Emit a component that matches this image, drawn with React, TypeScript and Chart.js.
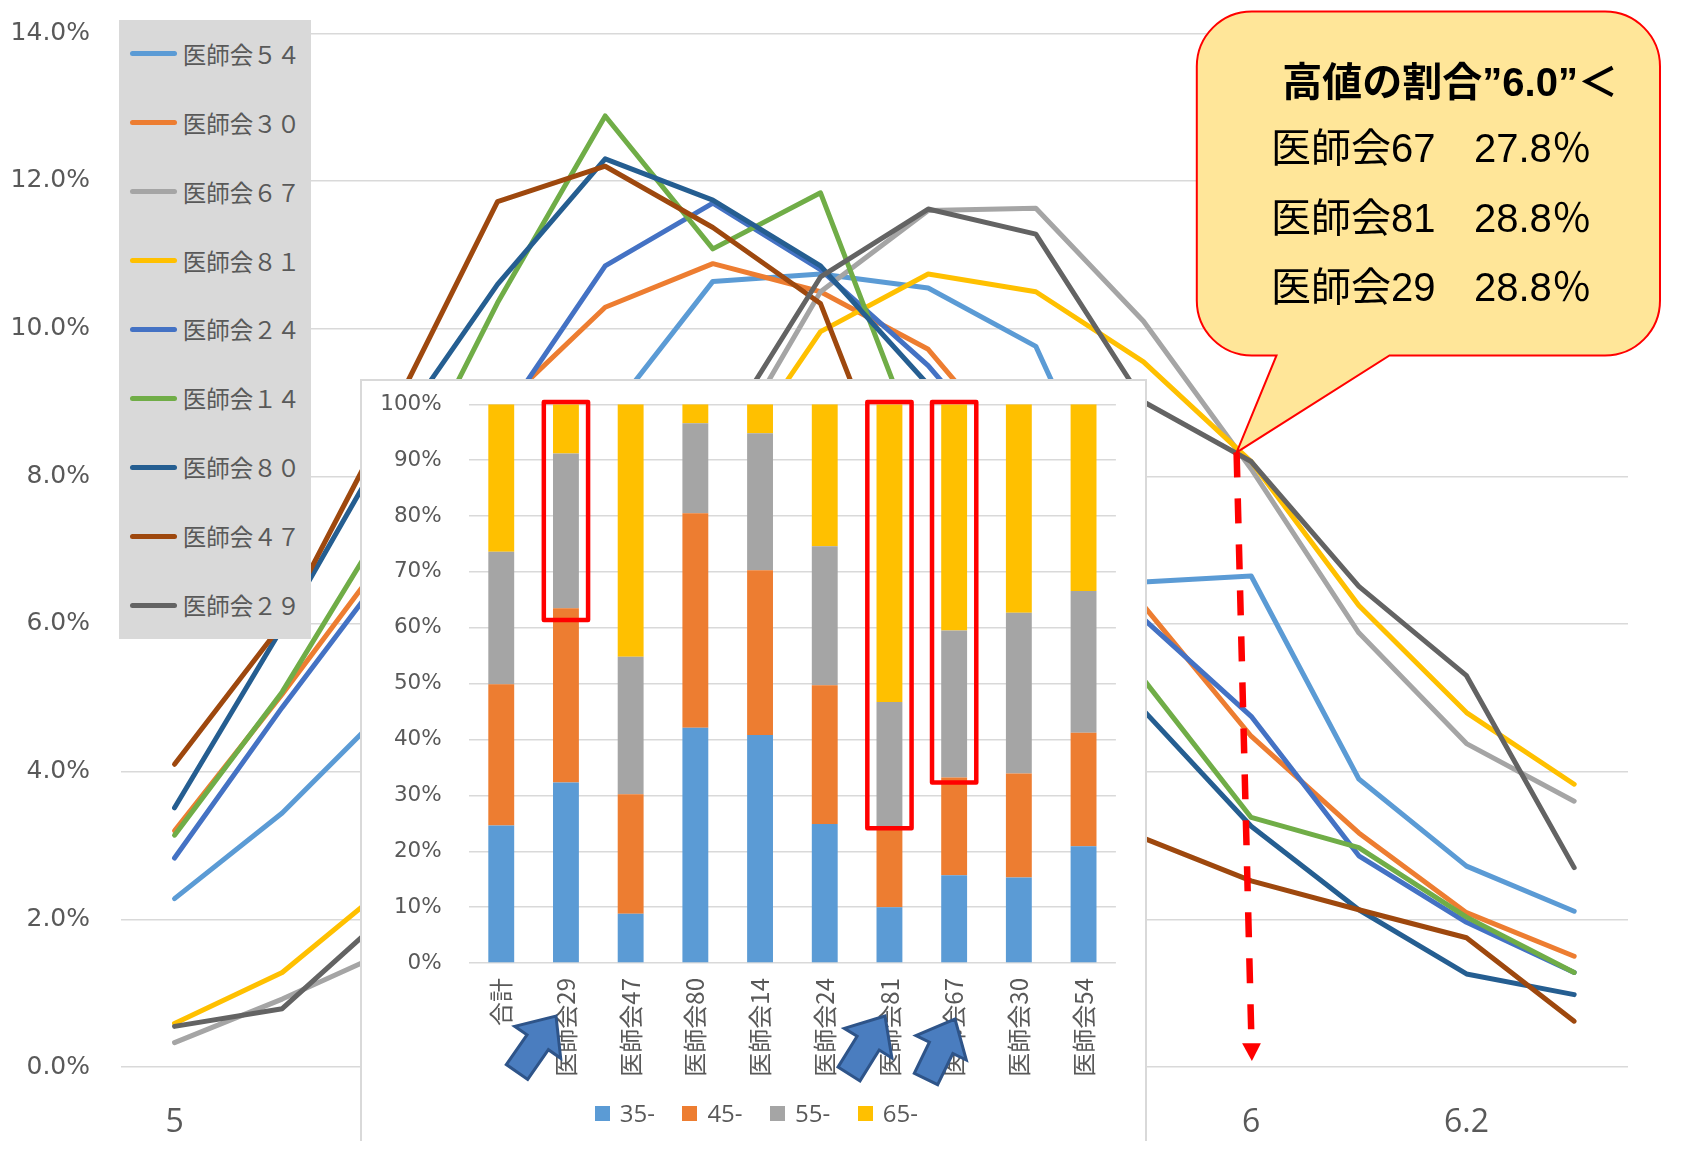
import React, { useEffect, useRef } from 'react';
import { Chart, registerables } from 'chart.js';

Chart.register(...registerables);

// ---------- main line chart data ----------
const xLabels = ['5', '5.1', '5.2', '5.3', '5.4', '5.5', '5.6', '5.7', '5.8', '5.9', '6', '6.1', '6.2', '6.3'];
const yTicks = [0, 2, 4, 6, 8, 10, 12, 14];

const seriesNames = ['医師会５４', '医師会３０', '医師会６７', '医師会８１', '医師会２４', '医師会１４', '医師会８０', '医師会４７', '医師会２９'];
const seriesColors = ['#5b9bd5', '#ed7d31', '#a5a5a5', '#ffc000', '#4472c4', '#70ad47', '#255e91', '#9e480e', '#636363'];

const s54 = [2.28, 3.44, 4.9, 6.6, 8.77, 10.64, 10.74, 10.55, 9.76, 6.57, 6.65, 3.9, 2.72, 2.11];
const s30 = [3.2, 5.05, 7.0, 8.9, 10.29, 10.88, 10.5, 9.72, 8.0, 6.25, 4.48, 3.17, 2.09, 1.5];
const s67 = [0.33, 0.92, 1.58, 3.0, 5.2, 8.0, 10.5, 11.6, 11.63, 10.1, 8.1, 5.88, 4.38, 3.6];
const s81 = [0.59, 1.28, 2.48, 4.0, 5.9, 7.82, 9.96, 10.74, 10.5, 9.55, 8.2, 6.25, 4.8, 3.83];
const s24 = [2.83, 4.87, 6.8, 8.7, 10.85, 11.7, 10.8, 9.5, 7.8, 6.07, 4.75, 2.86, 1.96, 1.28];
const s14 = [3.14, 5.08, 7.47, 10.35, 12.88, 11.08, 11.84, 8.04, 6.5, 5.25, 3.38, 2.97, 2.03, 1.28];
const s80 = [3.51, 5.95, 8.5, 10.6, 12.3, 11.74, 10.85, 9.24, 7.0, 4.83, 3.26, 2.13, 1.26, 0.98];
const s47 = [4.1, 6.0, 8.8, 11.72, 12.2, 11.37, 10.34, 6.6, 4.6, 3.1, 2.52, 2.13, 1.75, 0.62];
const s29 = [0.55, 0.79, 2.1, 4.0, 6.1, 8.37, 10.7, 11.62, 11.28, 9.01, 8.2, 6.51, 5.3, 2.7];
const lineSeries = [s54, s30, s67, s81, s24, s14, s80, s47, s29];

// ---------- inset stacked bar data ----------
const barCategories = ['合計', '医師会29', '医師会47', '医師会80', '医師会14', '医師会24', '医師会81', '医師会67', '医師会30', '医師会54'];
const ageGroups = ['35-', '45-', '55-', '65-'];
const ageColors = ['#5b9bd5', '#ed7d31', '#a5a5a5', '#ffc000'];
const age35 = [24.6, 32.3, 8.8, 42.1, 40.8, 24.9, 10.0, 15.7, 15.3, 20.9];
const age45 = [25.3, 31.2, 21.4, 38.4, 29.5, 24.8, 14.0, 17.5, 18.6, 20.3];
const age55 = [23.7, 27.7, 24.6, 16.1, 24.5, 24.9, 22.7, 26.3, 28.8, 25.4];
const age65 = [26.4, 8.8, 45.2, 3.4, 5.2, 25.4, 53.3, 40.5, 37.3, 33.4];
const ageSeries = [age35, age45, age55, age65];

// highlighted bars (red frames): category index and lower bound in %
const highlightIndex = [1, 6, 7];
const highlightLow = [61.4, 24.1, 32.3];
const highlightHigh = 100.4;

// ---------- callout text ----------
const calloutTitle = '高値の割合”6.0”＜';
const calloutNames = ['医師会67', '医師会81', '医師会29'];
const calloutValues = ['27.8％', '28.8％', '28.8％'];

// ---------- annotation geometry (container coords) ----------
const blueArrows = [
  { tail: [509, 1064], tip: [548, 1008] },
  { tail: [841, 1066], tip: [877, 1008] },
  { tail: [918, 1071], tip: [947, 1011] },
];

function arrowPoints(tail: number[], tip: number[]) {
  const dx = tip[0] - tail[0];
  const dy = tip[1] - tail[1];
  const L = Math.hypot(dx, dy);
  const ux = dx / L, uy = dy / L;
  const nx = -uy, ny = ux;
  const hl = 32, hw = 28, sw = 13;
  const neckX = tail[0] + ux * (L - hl), neckY = tail[1] + uy * (L - hl);
  const pts = [
    [tail[0] + nx * sw, tail[1] + ny * sw],
    [neckX + nx * sw, neckY + ny * sw],
    [neckX + nx * hw, neckY + ny * hw],
    [tip[0], tip[1]],
    [neckX - nx * hw, neckY - ny * hw],
    [neckX - nx * sw, neckY - ny * sw],
    [tail[0] - nx * sw, tail[1] - ny * sw],
  ];
  return pts.map((p) => p[0].toFixed(1) + ',' + p[1].toFixed(1)).join(' ');
}

const highlightPlugin = {
  id: 'highlightFrames',
  afterDatasetsDraw(chart: any) {
    const { ctx, scales } = chart;
    const x = scales.x, y = scales.y;
    const step = x.getPixelForValue(1) - x.getPixelForValue(0);
    const half = step * 0.342;
    ctx.save();
    ctx.strokeStyle = '#ff0000';
    ctx.lineWidth = 4.5;
    ctx.lineJoin = 'round';
    highlightIndex.forEach((idx, k) => {
      const cx = x.getPixelForValue(idx);
      const top = y.getPixelForValue(highlightHigh);
      const bot = y.getPixelForValue(highlightLow[k]);
      ctx.strokeRect(cx - half, top, half * 2, bot - top);
    });
    ctx.restore();
  },
};

const CJK = "'Noto Sans CJK JP', sans-serif";
const MIXED = "'Liberation Sans', 'Noto Sans CJK JP', sans-serif";

export default function App() {
  const mainRef = useRef<HTMLCanvasElement>(null);
  const barRef = useRef<HTMLCanvasElement>(null);

  useEffect(() => {
    const main = new Chart(mainRef.current as HTMLCanvasElement, {
      type: 'line',
      data: {
        labels: xLabels,
        datasets: lineSeries.map((d, i) => ({
          label: seriesNames[i],
          data: d,
          borderColor: seriesColors[i],
          backgroundColor: seriesColors[i],
          borderWidth: 5,
          pointRadius: 0,
          tension: 0,
          borderJoinStyle: 'round' as const,
          borderCapStyle: 'round' as const,
          order: lineSeries.length - i,
        })),
      },
      options: {
        responsive: false,
        animation: false,
        layout: { padding: { left: 0, right: 53, top: 25.3, bottom: 0 } },
        plugins: { legend: { display: false }, tooltip: { enabled: false } },
        scales: {
          x: {
            offset: true,
            grid: { display: false, drawTicks: false },
            border: { display: false },
            ticks: {
              autoSkip: false,
              maxRotation: 0,
              minRotation: 0,
              padding: 37,
              color: '#595959',
              font: { family: "'Open Sans', sans-serif", size: 32 },
              callback: (_v: any, i: number) => (i % 2 === 0 ? xLabels[i] : ''),
            },
            afterFit: (s: any) => { s.height = 74; },
          },
          y: {
            min: 0,
            max: 14,
            afterBuildTicks: (s: any) => { s.ticks = yTicks.map((v) => ({ value: v })); },
            grid: { color: '#d9d9d9', lineWidth: 1.5, drawTicks: true, tickLength: 30.7, tickColor: 'rgba(0,0,0,0)' },
            border: { display: false },
            ticks: {
              padding: 0,
              color: '#595959',
              font: { family: "'DejaVu Sans', sans-serif", size: 25 },
              callback: (v: any) => Number(v).toFixed(1) + '%',
            },
            afterFit: (s: any) => { s.width = 112.7; },
          },
        },
      },
    });

    const bar = new Chart(barRef.current as HTMLCanvasElement, {
      type: 'bar',
      data: {
        labels: barCategories,
        datasets: ageSeries.map((d, i) => ({
          label: ageGroups[i],
          data: d,
          backgroundColor: ageColors[i],
          borderWidth: 0,
          barPercentage: 0.4,
          categoryPercentage: 1,
        })),
      },
      options: {
        responsive: false,
        animation: false,
        layout: { padding: { left: 0, right: 29.1, top: 23.3, bottom: 0 } },
        plugins: { legend: { display: false }, tooltip: { enabled: false } },
        scales: {
          x: {
            stacked: true,
            grid: { display: false, drawTicks: false },
            border: { display: false },
            ticks: {
              autoSkip: false,
              maxRotation: 90,
              minRotation: 90,
              padding: 15,
              color: '#595959',
              font: { family: CJK, size: 24 },
            },
            afterFit: (s: any) => { s.height = 184; },
          },
          y: {
            stacked: true,
            min: 0,
            max: 100,
            grid: { color: '#d9d9d9', lineWidth: 1.5, drawTicks: true, tickLength: 27.2, tickColor: 'rgba(0,0,0,0)' },
            border: { display: false },
            ticks: {
              stepSize: 10,
              padding: 0,
              color: '#595959',
              font: { family: "'DejaVu Sans', sans-serif", size: 21.5 },
              callback: (v: any) => v + '%',
            },
            afterFit: (s: any) => { s.width = 106.9; },
          },
        },
      },
      plugins: [highlightPlugin],
    });

    return () => {
      main.destroy();
      bar.destroy();
    };
  }, []);

  const x1 = 1188.8, x2 = 1652, y1 = 3.5, y2 = 347.5, r = 55;
  const baseL = 1268.5, baseR = 1381.5, tipX = 1228.6, tipY = 444.4;
  const calloutPath =
    `M ${x1 + r} ${y1} H ${x2 - r} A ${r} ${r} 0 0 1 ${x2} ${y1 + r} V ${y2 - r} ` +
    `A ${r} ${r} 0 0 1 ${x2 - r} ${y2} H ${baseR} L ${tipX} ${tipY} L ${baseL} ${y2} H ${x1 + r} ` +
    `A ${r} ${r} 0 0 1 ${x1} ${y2 - r} V ${y1 + r} A ${r} ${r} 0 0 1 ${x1 + r} ${y1} Z`;

  return (
    <div style={{ position: 'relative', width: 1673, height: 1133, background: '#fff', fontFamily: CJK }}>
      {/* chart frame */}
      <div style={{ position: 'absolute', left: -1, top: -1, width: 1674, height: 1134, borderLeft: '1.5px solid #d9d9d9', borderTop: '1.5px solid #d9d9d9', boxSizing: 'border-box' }} />
      <canvas ref={mainRef} width={1673} height={1133} style={{ position: 'absolute', left: 0, top: 0 }} />

      {/* legend of main chart */}
      <div style={{ position: 'absolute', left: 111.3, top: 12.2, width: 191.4, height: 618.7, background: '#d9d9d9' }}>
        {seriesNames.map((n, i) => (
          <div key={n} style={{ position: 'absolute', left: 10.7, top: 33.7 + 68.9 * i - 16, height: 32, display: 'flex', alignItems: 'center' }}>
            <div style={{ width: 46.7, height: 5, borderRadius: 2.5, background: seriesColors[i] }} />
            <span style={{ marginLeft: 6, fontSize: 23.5, color: '#595959', lineHeight: '32px', whiteSpace: 'nowrap' }}>{n}</span>
          </div>
        ))}
      </div>

      {/* inset stacked bar chart */}
      <div style={{ position: 'absolute', left: 354, top: 373, width: 783, height: 766, background: '#fff', boxShadow: '0 0 0 2px #d9d9d9' }}>
        <canvas ref={barRef} width={783} height={766} style={{ position: 'absolute', left: 0, top: 0 }} />
        {ageGroups.map((g, i) => (
          <div key={g} style={{ position: 'absolute', left: 232.7 + 87.7 * i, top: 732 - 16, height: 32, display: 'flex', alignItems: 'center' }}>
            <div style={{ width: 15, height: 15, background: ageColors[i] }} />
            <span style={{ marginLeft: 10, fontSize: 24, color: '#595959', fontFamily: "'Open Sans', sans-serif", lineHeight: '32px' }}>{g}</span>
          </div>
        ))}
      </div>

      {/* callout + annotations */}
      <svg width={1673} height={1133} style={{ position: 'absolute', left: 0, top: 0, overflow: 'visible', pointerEvents: 'none' }}>
        <path d={calloutPath} fill="#ffe699" stroke="#ff0000" strokeWidth={2} />
        <line x1={tipX} y1={tipY} x2={1243.5} y2={1035.3} stroke="#ff0000" strokeWidth={6.5} strokeDasharray="25 21" />
        <polygon points="1234.1,1035.3 1252.9,1035.3 1243.9,1053" fill="#ff0000" />
        {blueArrows.map((a, i) => (
          <polygon key={i} points={arrowPoints(a.tail, a.tip)} fill="#4a7dbf" stroke="#2e5489" strokeWidth={3} strokeLinejoin="miter" />
        ))}
      </svg>

      <div style={{ position: 'absolute', left: 1274.3, top: 73.7 - 22, height: 44, lineHeight: '44px', fontSize: 40, fontWeight: 700, color: '#000', whiteSpace: 'nowrap', fontFamily: MIXED }}>
        {calloutTitle}
      </div>
      {calloutNames.map((n, i) => (
        <React.Fragment key={n}>
          <div style={{ position: 'absolute', left: 1263, top: 140.3 + 69.5 * i - 22, height: 44, lineHeight: '44px', fontSize: 40, color: '#000', whiteSpace: 'nowrap', fontFamily: MIXED }}>
            {n}
          </div>
          <div style={{ position: 'absolute', left: 1466, top: 140.3 + 69.5 * i - 22, height: 44, lineHeight: '44px', fontSize: 40, color: '#000', whiteSpace: 'nowrap', fontFamily: MIXED }}>
            {calloutValues[i]}
          </div>
        </React.Fragment>
      ))}
    </div>
  );
}
